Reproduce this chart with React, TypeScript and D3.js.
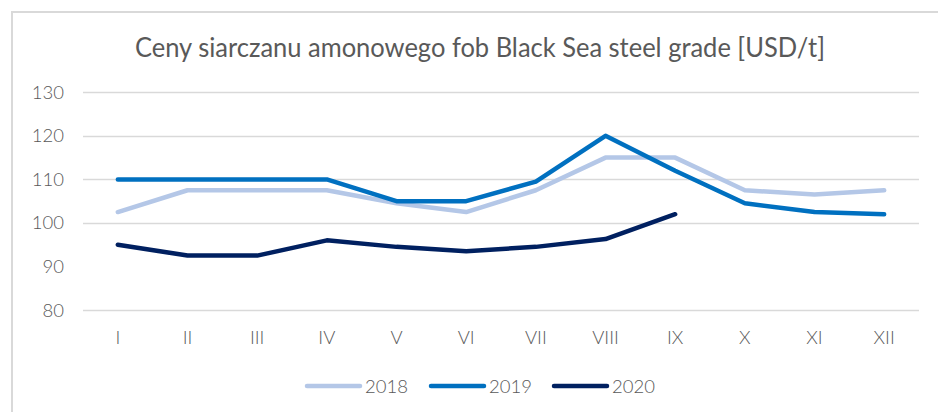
import { useEffect, useRef } from 'react'
import * as d3 from 'd3'

const months = ['I', 'II', 'III', 'IV', 'V', 'VI', 'VII', 'VIII', 'IX', 'X', 'XI', 'XII']
const yTicks = [80, 90, 100, 110, 120, 130]
const s2018 = [102.5, 107.5, 107.5, 107.5, 104.5, 102.5, 107.5, 115, 115, 107.5, 106.5, 107.5]
const s2019 = [110, 110, 110, 110, 105, 105, 109.5, 120, 112, 104.5, 102.5, 102]
const s2020 = [95, 92.5, 92.5, 96, 94.5, 93.5, 94.5, 96.3, 102]

const series = [
  { name: '2018', values: s2018, color: '#b4c7e7' },
  { name: '2019', values: s2019, color: '#0070c0' },
  { name: '2020', values: s2020, color: '#002060' },
]

export default function App() {
  const svgRef = useRef<SVGSVGElement>(null)

  useEffect(() => {
    const width = 938, height = 412
    const font = 'Lato, "Open Sans", sans-serif'
    const svg = d3.select(svgRef.current)
    svg.selectAll('*').remove()
    svg.attr('width', width).attr('height', height)

    // chart frame (right/bottom edges are off the picture)
    svg.append('rect')
      .attr('x', 12).attr('y', 12)
      .attr('width', width).attr('height', height)
      .attr('fill', 'white')
      .attr('stroke', '#d9d9d9')
      .attr('stroke-width', 2)

    svg.append('text')
      .text('Ceny siarczanu amonowego fob Black Sea steel grade [USD/t]')
      .attr('x', 480).attr('y', 57)
      .attr('text-anchor', 'middle')
      .attr('font-family', font)
      .attr('font-size', 26)
      .attr('fill', '#595959')
      .attr('textLength', 690)
      .attr('lengthAdjust', 'spacingAndGlyphs')

    const x = d3.scaleBand().domain(months).range([83, 919])
    const y = d3.scaleLinear().domain([80, 130]).range([310, 92.3])

    // gridlines (the 90 line is not visible in the reference)
    svg.append('g').selectAll('line')
      .data(yTicks.filter(t => t !== 90))
      .enter().append('line')
      .attr('x1', 83).attr('x2', 919)
      .attr('y1', d => Math.round(y(d)) + 0.5).attr('y2', d => Math.round(y(d)) + 0.5)
      .attr('stroke', '#d9d9d9')
      .attr('stroke-width', 1.5)

    svg.append('g').selectAll('text')
      .data(yTicks)
      .enter().append('text')
      .text(d => d)
      .attr('x', 64).attr('y', d => y(d) + 6.5)
      .attr('text-anchor', 'end')
      .attr('font-family', font)
      .attr('font-weight', 300)
      .attr('font-size', 18.5)
      .attr('fill', '#595959')

    svg.append('g').selectAll('text')
      .data(months)
      .enter().append('text')
      .text(d => d)
      .attr('x', d => x(d)! + x.bandwidth() / 2)
      .attr('y', 344)
      .attr('text-anchor', 'middle')
      .attr('font-family', font)
      .attr('font-weight', 300)
      .attr('font-size', 18.5)
      .attr('fill', '#595959')

    const line = d3.line<number>()
      .x((_, i) => x(months[i])! + x.bandwidth() / 2)
      .y(d => y(d))

    series.forEach(s => {
      svg.append('path')
        .attr('d', line(s.values))
        .attr('fill', 'none')
        .attr('stroke', s.color)
        .attr('stroke-width', 4.5)
        .attr('stroke-linejoin', 'round')
        .attr('stroke-linecap', 'round')
    })

    // legend
    const legendX = [307, 431, 554]
    series.forEach((s, i) => {
      const g = svg.append('g').attr('transform', `translate(${legendX[i]}, 386)`)
      g.append('line')
        .attr('x1', 0).attr('x2', 53)
        .attr('stroke', s.color)
        .attr('stroke-width', 4.5)
        .attr('stroke-linecap', 'round')
      g.append('text')
        .text(s.name)
        .attr('x', 58).attr('y', 6.5)
        .attr('font-family', font)
        .attr('font-weight', 300)
        .attr('font-size', 18.5)
        .attr('fill', '#595959')
    })
  }, [])

  return (
    <svg ref={svgRef} style={{ position: 'absolute', left: 0, top: 0, display: 'block' }} />
  )
}
